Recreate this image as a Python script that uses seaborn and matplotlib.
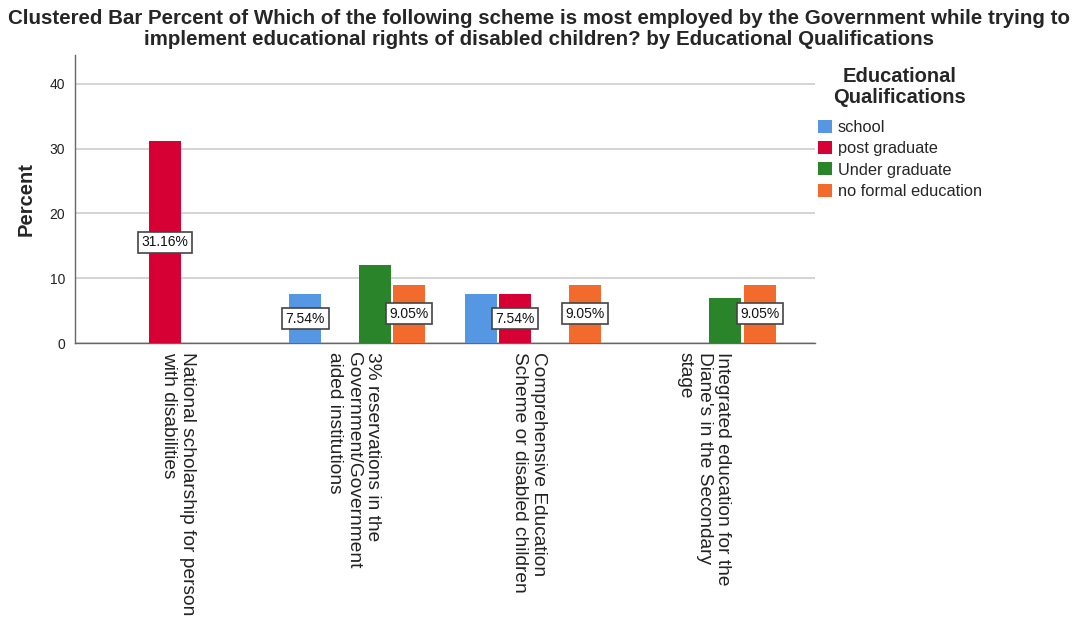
import matplotlib
matplotlib.use("Agg")
import matplotlib.pyplot as plt
import matplotlib.transforms as mtransforms
import seaborn as sns
import pandas as pd
import numpy as np

# Schemes (x categories) and qualification groups (hue)
schemes = [
    "National scholarship for person\nwith disabilities",
    "3% reservations in the\nGovernment/Government\naided institutions",
    "Comprehensive Education\nScheme or disabled children",
    "Integrated education for the\nDiane's in the Secondary\nstage",
]
groups = ["school", "post graduate", "Under graduate", "no formal education"]
colors = ["#5597E3", "#D70034", "#2A8429", "#F26A2C"]

# Percent per group for each scheme (NaN = no respondents)
school = [np.nan, 7.54, 7.54, np.nan]
post_graduate = [31.16, np.nan, 7.54, np.nan]
under_graduate = [np.nan, 12.06, np.nan, 7.04]
no_formal = [np.nan, 9.05, 9.05, 9.05]

# Bars that carry a value label: (scheme index, group index)
labeled = [(0, 1), (1, 0), (1, 3), (2, 1), (2, 3), (3, 3)]

series = [school, post_graduate, under_graduate, no_formal]
rows = []
for g, vals in zip(groups, series):
    for s, v in zip(schemes, vals):
        rows.append({"scheme": s, "group": g, "percent": v})
df = pd.DataFrame(rows).dropna()

sns.set_theme(style="white")
plt.rcParams["font.family"] = ["Liberation Sans", "DejaVu Sans"]

fig = plt.figure(figsize=(10.79, 6.28), dpi=100)
ax = fig.add_axes([0.0695, 0.4533, 0.6858, 0.4591])

sns.barplot(data=df, x="scheme", y="percent", hue="group",
            order=schemes, hue_order=groups, palette=colors, saturation=1,
            width=0.79, gap=0.08, dodge=True, linewidth=0,
            errorbar=None, legend=True, ax=ax, zorder=3)

ax.set_xlim(-0.61, 3.61)
ax.set_ylim(0, 44.4)
ax.set_yticks([0, 10, 20, 30, 40])
ax.yaxis.grid(True, color="#d4d4d4", linewidth=1.4, zorder=0)
ax.set_axisbelow(True)
for side in ["top", "right"]:
    ax.spines[side].set_visible(False)
for side in ["left", "bottom"]:
    ax.spines[side].set_color("#666666")
    ax.spines[side].set_linewidth(1.0)
ax.tick_params(axis="y", length=0, labelsize=10, colors="#222222", pad=7)
ax.tick_params(axis="x", length=0, pad=6)

ax.set_xlabel("")
ax.set_ylabel("Percent", fontsize=14.5, fontweight="bold", labelpad=10)
ax.set_xticks(range(len(schemes)))
ax.set_xticklabels(schemes, rotation=270, fontsize=13.8, color="#222222",
                   va="top", ha="center", multialignment="left")
shift = mtransforms.ScaledTranslation(-4 / 100, 0, fig.dpi_scale_trans)
for lbl in ax.get_xticklabels():
    lbl.set_linespacing(1.15)
    lbl.set_transform(lbl.get_transform() + shift)

# Value labels in boxes at the middle of each labeled bar
nh = len(groups)
slot = 0.79 / nh
for si, gi in labeled:
    v = series[gi][si]
    x = si - 0.79 / 2 + slot * (gi + 0.5)
    ax.text(x, v / 2, f"{v:.2f}%", ha="center", va="center", fontsize=10,
            color="#111111", zorder=5,
            bbox=dict(boxstyle="square,pad=0.25", facecolor="white",
                      edgecolor="#444444", linewidth=1.2))

handles, labels = ax.get_legend_handles_labels()
ax.legend_.remove()
leg = fig.legend(handles, labels, title="Educational\nQualifications",
                 loc="upper center", bbox_to_anchor=(0.834, 0.903),
                 frameon=False, fontsize=11.8, handlelength=0.85,
                 handleheight=0.85, handletextpad=0.35, labelspacing=0.37,
                 borderaxespad=0)
leg.get_title().set_fontsize(14.5)
leg.get_title().set_fontweight("bold")
leg.get_title().set_multialignment("center")
leg.get_title().set_linespacing(1.12)
leg._legend_box.align = "center"
leg._legend_box.sep = 9

fig.suptitle("Clustered Bar Percent of Which of the following scheme is most employed by the Government while trying to\n"
             "implement educational rights of disabled children? by Educational Qualifications",
             x=0.5, y=0.986, fontsize=14.8, fontweight="bold", linespacing=1.15)

fig.savefig("out.png", dpi=100)
